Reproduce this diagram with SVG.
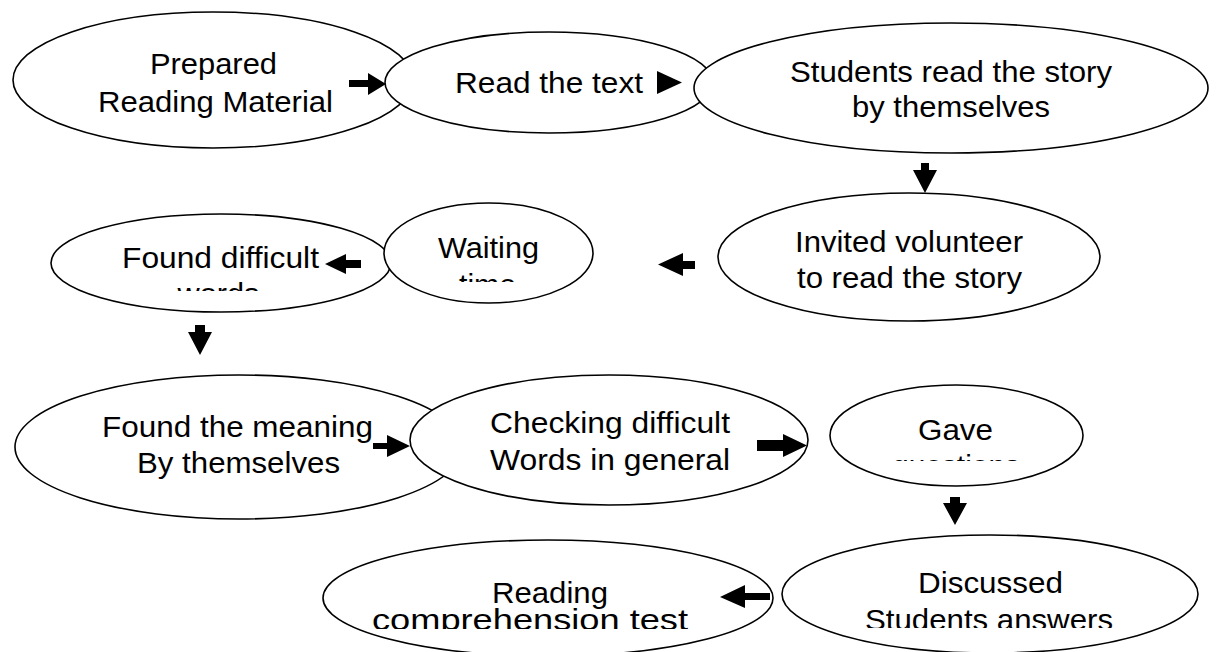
<svg xmlns="http://www.w3.org/2000/svg" width="1225" height="652" viewBox="0 0 1225 652">
<style>
.n ellipse{fill:#fff;stroke:#000;stroke-width:1.6}
.n text{font-family:"Liberation Sans",Arial,sans-serif;font-size:30px;fill:#000;text-anchor:middle}
.c path{fill:#000;stroke:none}
</style>
<defs>
<clipPath id="c5" clipPathUnits="userSpaceOnUse"><rect x="0" y="0" width="1225" height="291"/></clipPath>
<clipPath id="c6" clipPathUnits="userSpaceOnUse"><rect x="0" y="0" width="1225" height="282"/></clipPath>
<clipPath id="c9" clipPathUnits="userSpaceOnUse"><rect x="0" y="0" width="1225" height="461"/></clipPath>
<clipPath id="c10" clipPathUnits="userSpaceOnUse"><rect x="0" y="0" width="1225" height="628"/></clipPath>
<clipPath id="c11" clipPathUnits="userSpaceOnUse"><rect x="0" y="0" width="1225" height="629"/></clipPath>
</defs>
<rect width="1225" height="652" fill="#fff"/>
<g id="n1" class="n">
<ellipse cx="213" cy="80" rx="200" ry="68"/>
<text x="213.5" y="74" textLength="127" lengthAdjust="spacingAndGlyphs">Prepared</text>
<text x="215.5" y="112" textLength="235" lengthAdjust="spacingAndGlyphs">Reading Material</text>
</g>
<g id="n2" class="n">
<ellipse cx="549" cy="82.5" rx="164" ry="50.5"/>
<text x="549" y="93" textLength="188" lengthAdjust="spacingAndGlyphs">Read the text</text>
</g>
<g id="n3" class="n">
<ellipse cx="951" cy="88" rx="257" ry="65"/>
<text x="951" y="82" textLength="322" lengthAdjust="spacingAndGlyphs">Students read the story</text>
<text x="951" y="117" textLength="198" lengthAdjust="spacingAndGlyphs">by themselves</text>
</g>
<g id="n4" class="n">
<ellipse cx="909" cy="257" rx="191" ry="64"/>
<text x="909" y="252" textLength="228" lengthAdjust="spacingAndGlyphs">Invited volunteer</text>
<text x="909.5" y="288" textLength="225" lengthAdjust="spacingAndGlyphs">to read the story</text>
</g>
<g id="n5" class="n">
<ellipse cx="221" cy="263" rx="170" ry="49"/>
<text x="220.5" y="268" textLength="197" lengthAdjust="spacingAndGlyphs">Found difficult</text>
<text x="218.5" y="304" clip-path="url(#c5)" textLength="82" lengthAdjust="spacingAndGlyphs">words</text>
</g>
<g id="n6" class="n">
<ellipse cx="488.5" cy="253" rx="104.5" ry="50"/>
<text x="488.5" y="258" textLength="101" lengthAdjust="spacingAndGlyphs">Waiting</text>
<text x="487.5" y="295" clip-path="url(#c6)" textLength="57" lengthAdjust="spacingAndGlyphs">time</text>
</g>
<g id="n7" class="n">
<ellipse cx="239" cy="447" rx="224" ry="72"/>
<text x="237.5" y="437" textLength="271" lengthAdjust="spacingAndGlyphs">Found the meaning</text>
<text x="238.5" y="473" textLength="203" lengthAdjust="spacingAndGlyphs">By themselves</text>
</g>
<g id="n8" class="n">
<ellipse cx="609" cy="440" rx="199" ry="65"/>
<text x="610" y="433" textLength="240" lengthAdjust="spacingAndGlyphs">Checking difficult</text>
<text x="610" y="470" textLength="240" lengthAdjust="spacingAndGlyphs">Words in general</text>
</g>
<g id="n9" class="n">
<ellipse cx="956.5" cy="435.5" rx="126.5" ry="50.5"/>
<text x="955.5" y="440" textLength="75" lengthAdjust="spacingAndGlyphs">Gave</text>
<text x="956" y="476" clip-path="url(#c9)" textLength="128" lengthAdjust="spacingAndGlyphs">questions</text>
</g>
<g id="n10" class="n">
<ellipse cx="990" cy="594" rx="208" ry="59"/>
<text x="990.5" y="593" textLength="145" lengthAdjust="spacingAndGlyphs">Discussed</text>
<text x="989" y="630" clip-path="url(#c10)" textLength="248" lengthAdjust="spacingAndGlyphs">Students answers</text>
</g>
<g id="n11" class="n">
<ellipse cx="548" cy="598" rx="225" ry="58"/>
<text x="550" y="603" textLength="116" lengthAdjust="spacingAndGlyphs">Reading</text>
<text x="530" y="630" clip-path="url(#c11)" textLength="316" lengthAdjust="spacingAndGlyphs">comprehension test</text>
</g>
<g id="connectors" class="c">
<path d="M349,80 L368,80 L368,73 L386,84 L368,95 L368,87 L349,87 Z"/>
<path d="M657,71 L682,82.5 L657,94 Z"/>
<path d="M921,163 L929,163 L929,170 L937,170 L925,193 L913,170 L921,170 Z"/>
<path d="M695,261 L683,261 L683,253 L658,264.5 L683,276 L683,269 L695,269 Z"/>
<path d="M361,260 L346,260 L346,254 L325,264 L346,274 L346,268 L361,268 Z"/>
<path d="M195,325 L205,325 L205,332 L212,332 L200,355 L188,332 L195,332 Z"/>
<path d="M373,443 L387,443 L387,435 L410,446 L387,457 L387,449 L373,449 Z"/>
<path d="M757,440 L783,440 L783,434 L807,445.5 L783,457 L783,451 L757,451 Z"/>
<path d="M950,497 L960,497 L960,503 L967,503 L955,525 L943,503 L950,503 Z"/>
<path d="M770,593 L745,593 L745,585 L720,597 L745,608 L745,600 L770,600 Z"/>
</g>
</svg>
